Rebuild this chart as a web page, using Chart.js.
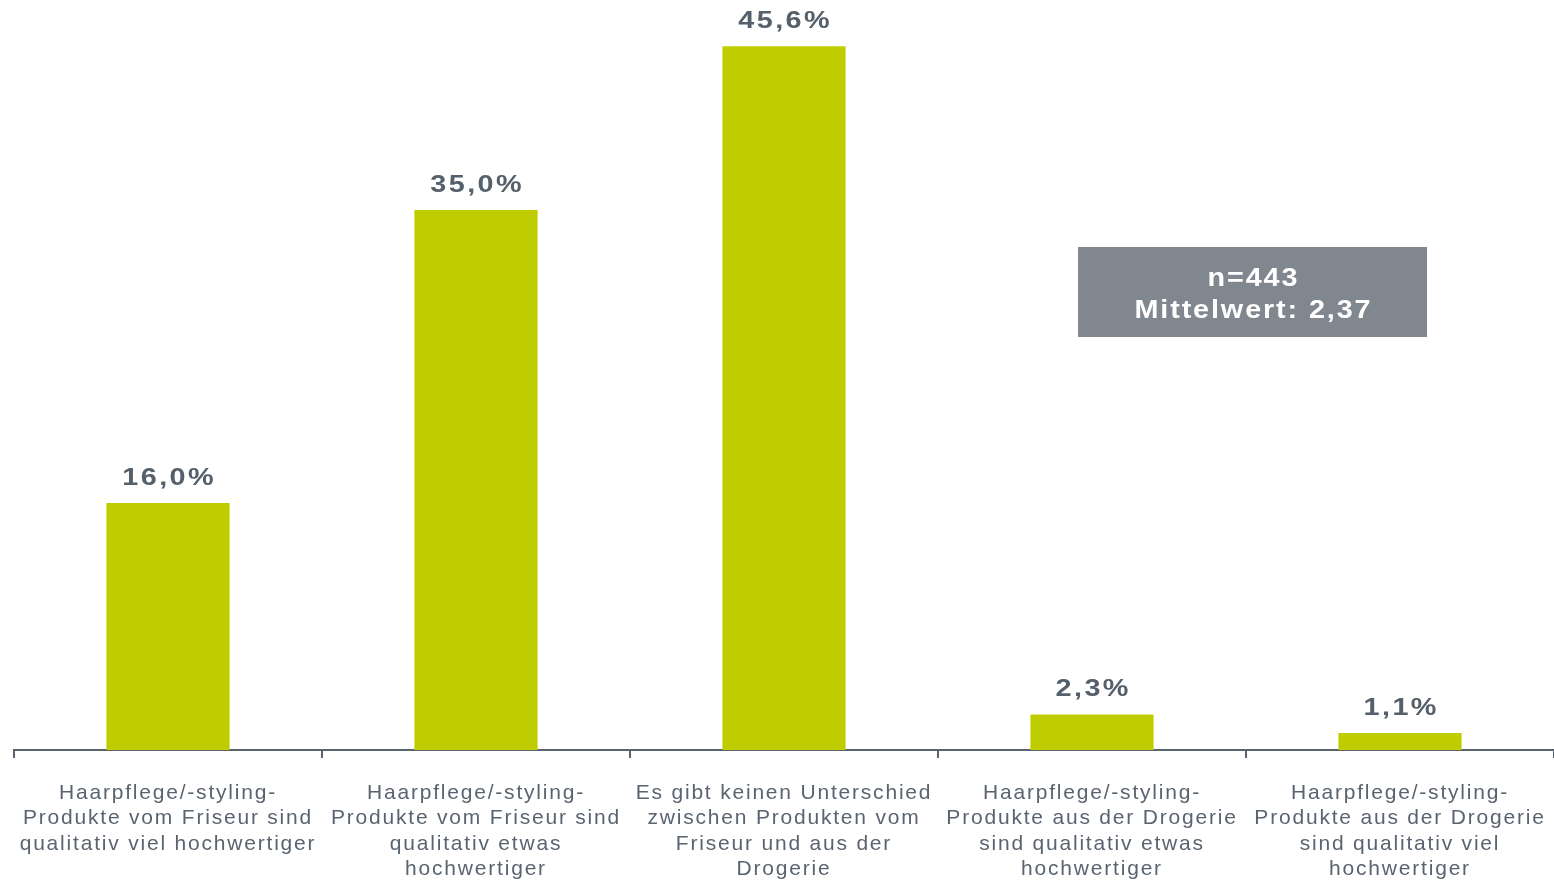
<!DOCTYPE html>
<html>
<head>
<meta charset="utf-8">
<script src="https://cdn.jsdelivr.net/npm/chart.js@4"></script>
<style>
  html, body { margin: 0; padding: 0; background: #fff; }
  #wrap { width: 1554px; height: 881px; position: relative; }
</style>
</head>
<body>
<div id="wrap"><canvas id="chart"></canvas></div>
<script>
// categories (x-axis, split into lines like the original)
let categories = [
    ["Haarpflege/-styling-", "Produkte vom Friseur sind", "qualitativ viel hochwertiger"],
    ["Haarpflege/-styling-", "Produkte vom Friseur sind", "qualitativ etwas", "hochwertiger"],
    ["Es gibt keinen Unterschied", "zwischen Produkten vom", "Friseur und aus der", "Drogerie"],
    ["Haarpflege/-styling-", "Produkte aus der Drogerie", "sind qualitativ etwas", "hochwertiger"],
    ["Haarpflege/-styling-", "Produkte aus der Drogerie", "sind qualitativ viel", "hochwertiger"]
];
let shares = [16.0, 35.0, 45.6, 2.3, 1.1];
let infoLines = ["n=443", "Mittelwert: 2,37"];

let textColor = "#56606b";

let fmt = function(v) {
    return v.toFixed(1).replace(".", ",") + "%";
};

// horizontally stretched text (the slide font is wider than Arial)
let wideText = function(ctx, text, x, y, sx, gap) {
    ctx.save();
    ctx.letterSpacing = gap + "px";
    ctx.scale(sx, 1);
    ctx.fillText(text, (x + gap * sx / 2) / sx, y);
    ctx.restore();
};

// wide letter spacing like the original slide
let spacing = {
    id: "spacing",
    beforeDraw: function(chart) {
        chart.ctx.letterSpacing = "1.8px";
    }
};

// value labels above bars + info box
let valueLabels = {
    id: "valueLabels",
    afterDatasetsDraw: function(chart) {
        let ctx = chart.ctx;
        let meta = chart.getDatasetMeta(0);
        ctx.save();
        ctx.font = "bold 24px 'Liberation Sans', Arial, sans-serif";
        ctx.fillStyle = textColor;
        ctx.textAlign = "center";
        ctx.textBaseline = "bottom";
        meta.data.forEach(function(bar, i) {
            wideText(ctx, fmt(shares[i]), bar.x, bar.y - 13, 1.2, 2);
        });

        // info box
        let area = chart.chartArea;
        let bx = area.left + 1064, by = 247, bw = 349, bh = 90;
        ctx.fillStyle = "#81878f";
        ctx.fillRect(bx, by, bw, bh);
        ctx.fillStyle = "#ffffff";
        ctx.textBaseline = "middle";
        ctx.font = "bold 25px 'Liberation Sans', Arial, sans-serif";
        wideText(ctx, infoLines[0], bx + bw / 2, 279, 1.15, 1.65);
        wideText(ctx, infoLines[1], bx + bw / 2, 311, 1.15, 1.65);
        ctx.restore();
    }
};

new Chart(document.getElementById("chart"), {
    type: "bar",
    data: {
        labels: categories,
        datasets: [{
            data: shares,
            backgroundColor: "#bfcc00",
            barPercentage: 0.4,
            categoryPercentage: 1.0
        }]
    },
    options: {
        responsive: true,
        maintainAspectRatio: false,
        animation: false,
        layout: { padding: { left: 14, right: 0, top: 0, bottom: 0 } },
        plugins: {
            legend: { display: false },
            tooltip: { enabled: false }
        },
        scales: {
            x: {
                offset: true,
                grid: {
                    offset: true,
                    drawOnChartArea: false,
                    drawTicks: true,
                    tickLength: 8,
                    color: "#5a6572",
                    lineWidth: 2
                },
                border: { display: true, color: "#5a6572", width: 2 },
                ticks: {
                    autoSkip: false,
                    maxRotation: 0,
                    minRotation: 0,
                    padding: 22,
                    color: "#5a6470",
                    font: { family: "'Liberation Sans', Arial, sans-serif", size: 21, lineHeight: 1.22 }
                },
                afterFit: function(scale) {
                    scale.height = 131;
                }
            },
            y: {
                display: false,
                min: 0,
                max: 48.6
            }
        }
    },
    plugins: [spacing, valueLabels]
});
</script>
</body>
</html>
